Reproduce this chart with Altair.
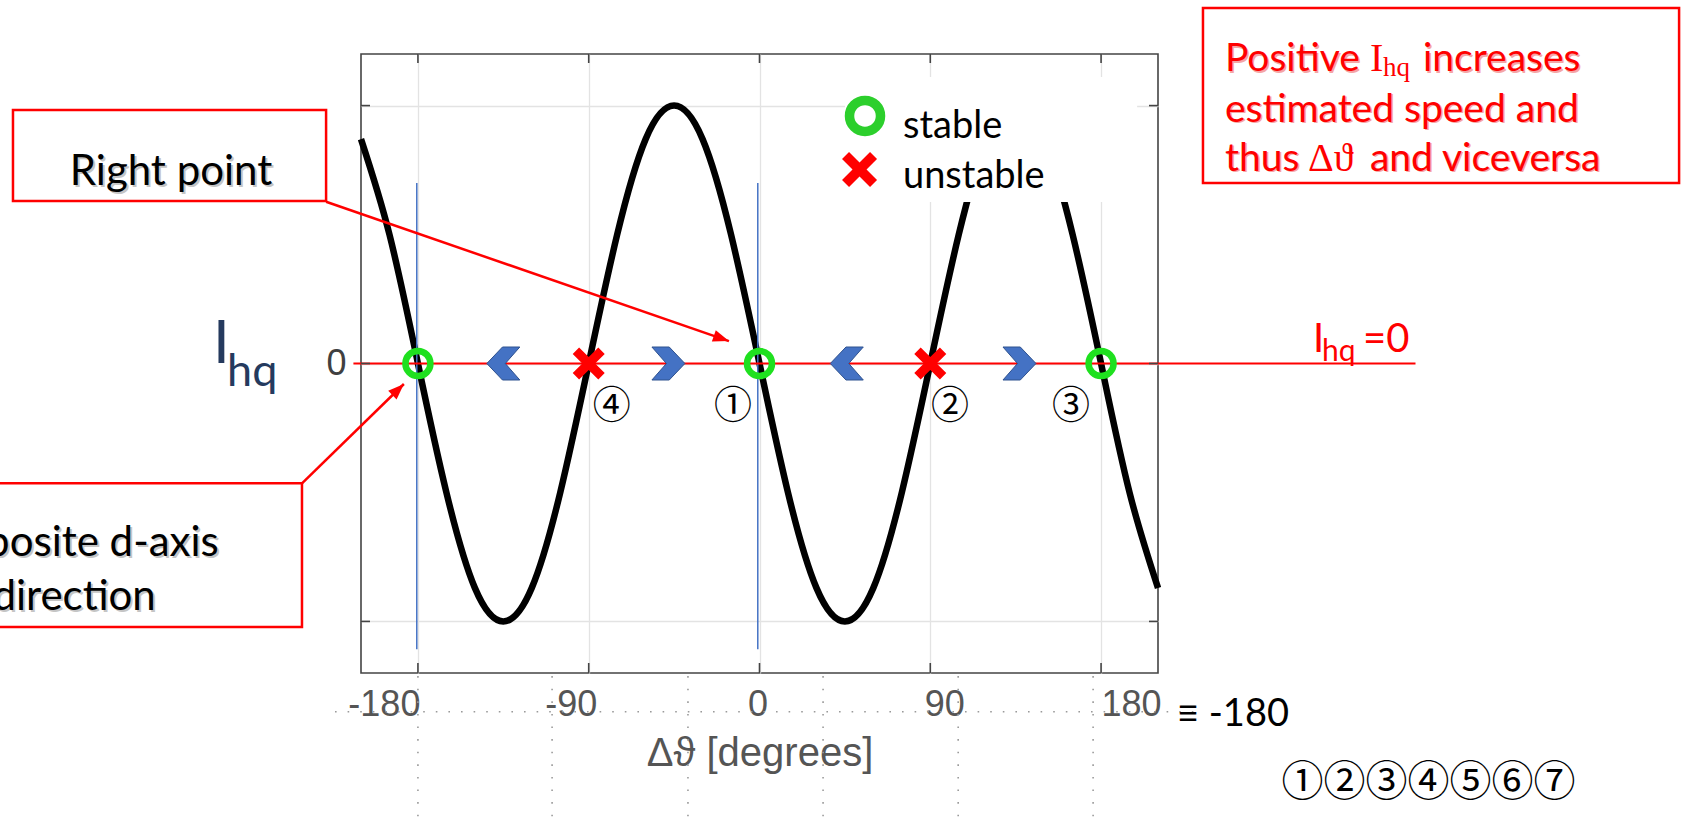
import altair as alt
import pandas as pd

# ---- curve: I_hq versus the phase error (degrees) ----
theta_deg = [-210, -195, -180, -165, -150, -135, -120, -105, -90, -75, -60, -45, -30, -15, 0,
             15, 30, 45, 60, 75, 90, 105, 120, 135, 150, 165, 180, 195, 210]
i_hq = [0.87, 0.50, 0.0, -0.50, -0.87, -1.0, -0.87, -0.50, 0.0, 0.50, 0.87, 1.0, 0.87, 0.50, 0.0,
        -0.50, -0.87, -1.0, -0.87, -0.50, 0.0, 0.50, 0.87, 1.0, 0.87, 0.50, 0.0, -0.50, -0.87]

# equilibrium points on I_hq = 0
stable_theta = [-180, 0, 180]
unstable_theta = [-90, 90]
# drift direction chevrons
left_chevrons = [-135, 46]
right_chevrons = [-48, 137]
# numbering of the equilibria
eq_marks = ["④", "①", "②", "③"]
eq_theta = [-77.8, -14.0, 100.4, 164.2]

x_ticks = [-180, -90, 0, 90, 180]
y_ticks = [-1, 0, 1]

GREEN = "#1fe01f"
RED = "#ff0000"
BLUE = "#4472c4"
SANS = "Lato"
CJK = "Noto Sans CJK JP"

xs = alt.Scale(domain=[-210, 210], nice=False, zero=False)
ys = alt.Scale(domain=[-1.2, 1.2], nice=False, zero=False)

x_axis = alt.Axis(
    values=x_ticks, title="Δϑ [degrees]", grid=True, gridColor="#e3e3e3", gridWidth=1.3,
    ticks=False, domain=False, labelFont="Liberation Sans", labelFontSize=36,
    labelColor="#555555", labelPadding=14, labelOverlap=False,
    labelExpr="'' + datum.value",
    labelOffset={"expr": "datum.value * 0.178 - 2"},
    titleFont="Liberation Sans", titleFontSize=40, titleFontWeight="normal",
    titleColor="#555555", titlePadding=11,
)
y_axis = alt.Axis(
    values=y_ticks, title=None, grid=True, gridColor="#e3e3e3", gridWidth=1.3,
    ticks=False, domain=False, labelExpr="datum.value == 0 ? '0' : ''",
    labelFont="Liberation Sans", labelFontSize=36, labelColor="#404040", labelPadding=15,
)

# every layer carries the same axis definitions so that they merge into one
X = alt.X("t:Q", scale=xs, axis=x_axis)
Y = alt.Y("v:Q", scale=ys, axis=y_axis)
X2 = alt.X2("t2:Q")
Y2 = alt.Y2("v2:Q")

curve_df = pd.DataFrame({"t": theta_deg, "v": i_hq})
curve = alt.Chart(curve_df).mark_line(
    color="black", strokeWidth=6.5, interpolate="natural"
).encode(x=X, y=Y)


def seg_layer(df, **kw):
    return alt.Chart(df).mark_rule(**kw).encode(x=X, y=Y, x2=X2, y2=Y2)


def text_layer(df, **kw):
    return alt.Chart(df).mark_text(**kw).encode(x=X, y=Y, text="label:N")


# faint dotted guides below the plot
guide_v = pd.DataFrame({"t": [-180.0, -109.3, -37.7, 33.5, 104.7, 175.8]})
guide_v["t2"] = guide_v["t"]
guide_v["v"] = -1.212
guide_v["v2"] = -1.758
guide_h = pd.DataFrame({"t": [-223.7], "t2": [232.1], "v": [-1.35], "v2": [-1.35]})
guides = alt.layer(
    seg_layer(guide_v, color="#9a9a9a", strokeWidth=1.6, strokeDash=[1.6, 11]),
    seg_layer(guide_h, color="#9a9a9a", strokeWidth=1.6, strokeDash=[1.6, 11]),
)

# blue markers of the d-axis positions
blue_df = pd.DataFrame({"t": [-180.6, -0.9], "t2": [-180.6, -0.9], "v": [0.70, 0.70], "v2": [-1.108, -1.108]})
blue_lines = seg_layer(blue_df, color=BLUE, strokeWidth=1.5)

# I_hq = 0 line
zero_df = pd.DataFrame({"t": [-214.0], "t2": [345.7], "v": [0.0], "v2": [0.0]})
zero_line = seg_layer(zero_df, color=RED, strokeWidth=2)

CHEV_R = "M-1,-1 L0.05,-1 L1,0 L0.05,1 L-1,1 L-0.12,0 Z"
CHEV_L = "M1,-1 L-0.05,-1 L-1,0 L-0.05,1 L1,1 L0.12,0 Z"
X_PATH = "M-1,-0.6 L-0.6,-1 L0,-0.4 L0.6,-1 L1,-0.6 L0.4,0 L1,0.6 L0.6,1 L0,0.4 L-0.6,1 L-1,0.6 L-0.4,0 Z"

chev = alt.layer(
    alt.Chart(pd.DataFrame({"t": left_chevrons, "v": [0.0] * len(left_chevrons)})).mark_point(
        shape=CHEV_L, size=1089, filled=True, fill=BLUE, stroke="#2f528f", strokeWidth=1, opacity=1
    ).encode(x=X, y=Y),
    alt.Chart(pd.DataFrame({"t": right_chevrons, "v": [0.0] * len(right_chevrons)})).mark_point(
        shape=CHEV_R, size=1089, filled=True, fill=BLUE, stroke="#2f528f", strokeWidth=1, opacity=1
    ).encode(x=X, y=Y),
)

stable = alt.Chart(pd.DataFrame({"t": stable_theta, "v": [0.0] * 3})).mark_point(
    shape="circle", filled=False, size=625, strokeWidth=6.5, color=GREEN, opacity=1
).encode(x=X, y=Y)
unstable = alt.Chart(pd.DataFrame({"t": unstable_theta, "v": [0.0] * 2})).mark_point(
    shape=X_PATH, filled=True, size=1024, color=RED, strokeWidth=0, opacity=1
).encode(x=X, y=Y)

eq_text = text_layer(
    pd.DataFrame({"t": eq_theta, "v": [-0.169] * 4, "label": eq_marks}),
    font=CJK, fontSize=38, align="center", baseline="middle", color="black",
)

# inward ticks on all four sides of the box
tx = pd.DataFrame({"t": x_ticks})
ty = pd.DataFrame({"v": y_ticks})
tick_style = dict(color="#444444", strokeWidth=1.6)
ticks = alt.layer(
    alt.Chart(tx).mark_rule(**tick_style).encode(x=X, y=alt.value(0), y2=alt.value(9)),
    alt.Chart(tx).mark_rule(**tick_style).encode(x=X, y=alt.value(619), y2=alt.value(609)),
    alt.Chart(ty).mark_rule(**tick_style).encode(y=Y, x=alt.value(0), x2=alt.value(9)),
    alt.Chart(ty).mark_rule(**tick_style).encode(y=Y, x=alt.value(797), x2=alt.value(788)),
)

# legend
legend_box = alt.Chart(pd.DataFrame({"t": [45.1], "t2": [199.0], "v": [1.111], "v2": [0.626]})).mark_rect(
    fill="white", strokeWidth=0
).encode(x=X, x2=X2, y=Y, y2=Y2)
legend_ring = alt.Chart(pd.DataFrame({"t": [55.6], "v": [0.960]})).mark_point(
    shape="circle", filled=False, size=961, strokeWidth=9.5, color="#2ccf2c", opacity=1
).encode(x=X, y=Y)
legend_x = alt.Chart(pd.DataFrame({"t": [52.7], "v": [0.752]})).mark_point(
    shape=X_PATH, filled=True, size=1225, color=RED, strokeWidth=0, opacity=1
).encode(x=X, y=Y)
legend_text = text_layer(
    pd.DataFrame({"t": [75.6, 75.6], "v": [0.917, 0.724], "label": ["stable", "unstable"]}),
    font=SANS, fontSize=38, align="left", color="black",
)

# callout boxes and arrows
boxes = alt.Chart(pd.DataFrame({
    "t": [-393.4, -474.0, 233.7], "t2": [-228.4, -241.1, 484.6],
    "v": [0.983, -0.4645, 1.378], "v2": [0.630, -1.0217, 0.700],
})).mark_rect(fill="white", stroke=RED, strokeWidth=2.5).encode(x=X, x2=X2, y=Y, y2=Y2)

arrows_df = pd.DataFrame({
    "t": [-228.4, -241.1], "v": [0.627, -0.4645],
    "t2": [-16.1, -187.4], "v2": [0.087, -0.0795], "ang": [19.1, 315.9],
})
arrow_lines = seg_layer(arrows_df, color=RED, strokeWidth=2.5)
arrow_heads = alt.Chart(arrows_df).mark_point(
    shape="M0,0 L-2,-0.75 L-2,0.75 Z", size=256, filled=True, color=RED, opacity=1, strokeWidth=0
).encode(x=alt.X("t2:Q", scale=xs, axis=x_axis), y=alt.Y("v2:Q", scale=ys, axis=y_axis),
         angle=alt.Angle("ang:Q", scale=None))

callout_df = pd.DataFrame({
    "t": [-310.1, -361.2, -361.2], "v": [0.744, -0.697, -0.904],
    "label": ["Right point", "Opposite d-axis", "direction"],
})
callout_shadow = text_layer(callout_df, font=SANS, fontSize=42, align="center",
                            color="#808080", opacity=0.45, dx=2, dy=2)
callout_text = text_layer(callout_df, font=SANS, fontSize=42, align="center", color="black")

note_df = pd.DataFrame({
    "t": [245.3, 349.6, 245.3, 245.3, 321.7], "v": [1.179, 1.179, 0.983, 0.793, 0.793],
    "label": ["Positive", "increases", "estimated speed and", "thus", "and viceversa"],
})
note_serif = pd.DataFrame({"t": [321.7, 289.0], "v": [1.179, 0.793], "label": ["I", "Δϑ"]})
note_sub = pd.DataFrame({"t": [328.6], "v": [1.146], "label": ["hq"]})
note = alt.layer(
    text_layer(note_df, font=SANS, fontSize=39, align="left", color="#f4a6a6", dx=1.5, dy=1.5),
    text_layer(note_df, font=SANS, fontSize=39, align="left", color=RED),
    text_layer(note_serif, font="Liberation Serif", fontSize=40, align="left", color=RED),
    text_layer(note_sub, font="Liberation Serif", fontSize=27, align="left", color=RED),
)

# I_hq = 0 label on the right
zero_lbl = alt.layer(
    text_layer(pd.DataFrame({"t": [291.7, 318.0], "v": [0.091, 0.091], "label": ["I", "=0"]}),
               font=SANS, fontSize=40, align="left", color=RED),
    text_layer(pd.DataFrame({"t": [296.4], "v": [0.046], "label": ["hq"]}),
               font=SANS, fontSize=30, align="left", color=RED),
)

# y-axis quantity name
y_name = alt.layer(
    text_layer(pd.DataFrame({"t": [-288.0], "v": [0.072], "label": ["I"]}),
               font=SANS, fontSize=60, align="left", color="#253a5e"),
    text_layer(pd.DataFrame({"t": [-280.6], "v": [-0.032], "label": ["hq"]}),
               font=SANS, fontSize=45, align="left", color="#253a5e"),
)

wrap = text_layer(pd.DataFrame({"t": [220.0], "v": [-1.363], "label": ["≡ -180"]}),
                  font=SANS, fontSize=38, align="left", color="black")
circled_row = text_layer(pd.DataFrame({"t": [352.6], "v": [-1.626], "label": ["①②③④⑤⑥⑦"]}),
                         font=CJK, fontSize=42, align="center", baseline="middle", color="black")

chart = alt.layer(
    curve, guides, blue_lines, zero_line, chev, stable, unstable, eq_text, ticks,
    legend_box, legend_ring, legend_x, legend_text,
    boxes, arrow_lines, arrow_heads, callout_shadow, callout_text,
    note, zero_lbl, y_name, wrap, circled_row,
).properties(
    width=797, height=619,
    padding={"left": 361, "top": 54, "right": 524, "bottom": 144},
    autosize=alt.AutoSizeParams(type="none"),
    background="white",
).configure_view(stroke="#444444", strokeWidth=1.6)

chart.save("out.html", embed_options={"renderer": "svg", "actions": False})
